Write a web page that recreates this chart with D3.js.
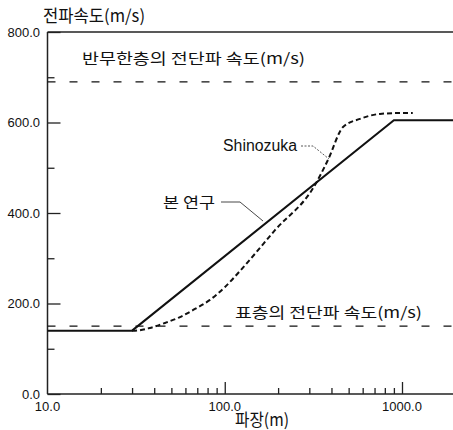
<!DOCTYPE html>
<html><head><meta charset="utf-8">
<script src="https://cdn.jsdelivr.net/npm/d3@7/dist/d3.min.js"></script>
<style>
html,body{margin:0;padding:0;background:#fff;}
svg{display:block;}
.kr{font-family:"Noto Sans CJK KR","Noto Sans",sans-serif;fill:#111;}
.num{font-family:"Liberation Sans",Arial,sans-serif;fill:#111;}
</style></head>
<body>
<svg id="c" width="453" height="430"></svg>
<script>
// ---- data ----
const studyX = [10, 30, 900, 2000];
const studyY = [140, 140, 605, 605];
const shinoX = [30, 31.2, 37.8, 46, 55.9, 67.9, 82.5, 100, 122, 192, 323, 382, 465, 579, 751, 1000, 1150];
const shinoY = [140, 140, 146, 157, 170, 188, 208, 236, 272, 362, 462, 517, 590, 608, 619, 621, 621];
const halfspaceVs = 690;
const surfaceVs = 150;
const yTicks = [0, 200, 400, 600, 800];
const yMinor = [100, 300, 500, 700];
const xMajor = [10, 100, 1000];
const xMinor = [20,30,40,50,60,70,80,90,200,300,400,500,600,700,800,900];
const yTitle = "전파속도(m/s)";
const xTitle = "파장(m)";
const labelHalf = "반무한층의 전단파 속도(m/s)";
const labelSurf = "표층의 전단파 속도(m/s)";
const labelShino = "Shinozuka";
const labelStudy = "본 연구";

// ---- layout ----
const svg = d3.select("#c");
const L = 47.5, T = 32, B = 394;
const x = d3.scaleLog().domain([10, 2000]).range([L, L + Math.log10(200) * 177.25]);
const y = d3.scaleLinear().domain([0, 800]).range([B, T]);
const W = 453;

// frame lines
svg.append("line").attr("x1", L).attr("x2", W).attr("y1", T).attr("y2", T).attr("stroke", "#222").attr("stroke-width", 1.3);
svg.append("line").attr("x1", L).attr("x2", W).attr("y1", B).attr("y2", B).attr("stroke", "#222").attr("stroke-width", 1.5);
svg.append("line").attr("x1", L).attr("x2", L).attr("y1", T).attr("y2", B).attr("stroke", "#222").attr("stroke-width", 1.5);

// y ticks (inward)
const yAxis = d3.axisRight(y).tickValues(yTicks).tickSize(13).tickFormat("");
const ga = svg.append("g").attr("transform", `translate(${L},0)`).call(yAxis);
ga.select(".domain").remove();
ga.selectAll("line").attr("stroke", "#222").attr("stroke-width", 1.3);
const yAxisMinor = d3.axisRight(y).tickValues(yMinor).tickSize(7).tickFormat("");
const gm = svg.append("g").attr("transform", `translate(${L},0)`).call(yAxisMinor);
gm.select(".domain").remove();
gm.selectAll("line").attr("stroke", "#222").attr("stroke-width", 1.3);
svg.selectAll(".ylab").data(yTicks).enter().append("text").attr("class", "num")
  .attr("x", 40).attr("y", d => y(d)).attr("dy", "0.36em").attr("text-anchor", "end")
  .attr("font-size", 13).text(d => d.toFixed(1));

// x ticks (inward)
const xAxis = d3.axisTop(x).tickValues(xMajor.filter(d => d > 10)).tickSize(12).tickFormat("");
const gx = svg.append("g").attr("transform", `translate(0,${B})`).call(xAxis);
gx.select(".domain").remove();
gx.selectAll("line").attr("stroke", "#222").attr("stroke-width", 1.3);
const xAxisMinor = d3.axisTop(x).tickValues(xMinor).tickSize(6).tickFormat("");
const gxm = svg.append("g").attr("transform", `translate(0,${B})`).call(xAxisMinor);
gxm.select(".domain").remove();
gxm.selectAll("line").attr("stroke", "#222").attr("stroke-width", 1.3);
svg.selectAll(".xlab").data(xMajor).enter().append("text").attr("class", "num")
  .attr("x", d => x(d)).attr("y", 411).attr("text-anchor", "middle")
  .attr("font-size", 13).text(d => d.toFixed(1));

// titles
svg.append("text").attr("class", "kr").attr("x", 43).attr("y", 22).attr("font-size", 17)
  .attr("textLength", 102).attr("lengthAdjust", "spacingAndGlyphs").text(yTitle);
svg.append("text").attr("class", "kr").attr("x", 235).attr("y", 426).attr("font-size", 17)
  .attr("textLength", 54).attr("lengthAdjust", "spacingAndGlyphs").text(xTitle);

// reference dashed lines
[halfspaceVs, surfaceVs].forEach(v => {
  svg.append("line").attr("x1", L).attr("x2", W).attr("y1", y(v)).attr("y2", y(v))
    .attr("stroke", "#111").attr("stroke-width", 1.3).attr("stroke-dasharray", "8,14");
});

// curves
const line = d3.line().x(d => x(d[0])).y(d => y(d[1]));
svg.append("path").datum(studyX.map((v, i) => [v, studyY[i]]))
  .attr("d", line).attr("fill", "none").attr("stroke", "#111").attr("stroke-width", 2);
svg.append("path").datum(shinoX.map((v, i) => [v, shinoY[i]]))
  .attr("d", line.curve(d3.curveMonotoneX)).attr("fill", "none").attr("stroke", "#111")
  .attr("stroke-width", 2).attr("stroke-dasharray", "5,3");

// annotations
svg.append("text").attr("class", "kr").attr("x", 82).attr("y", 64).attr("font-size", 15)
  .attr("textLength", 223).attr("lengthAdjust", "spacingAndGlyphs").text(labelHalf);
svg.append("text").attr("class", "kr").attr("x", 235).attr("y", 318).attr("font-size", 15)
  .attr("textLength", 187).attr("lengthAdjust", "spacingAndGlyphs").text(labelSurf);
svg.append("text").attr("class", "num").attr("x", 223).attr("y", 151).attr("font-size", 16)
  .attr("textLength", 74).attr("lengthAdjust", "spacingAndGlyphs").text(labelShino);
svg.append("text").attr("class", "kr").attr("x", 163).attr("y", 208).attr("font-size", 15)
  .attr("textLength", 52).attr("lengthAdjust", "spacingAndGlyphs").text(labelStudy);

// leaders
svg.append("polyline").attr("points", "301,146 313,146 329,159").attr("fill", "none")
  .attr("stroke", "#444").attr("stroke-width", 0.9).attr("stroke-dasharray", "2,1.5");
svg.append("polyline").attr("points", "221,202 240,202 263,221").attr("fill", "none")
  .attr("stroke", "#333").attr("stroke-width", 0.9);
</script>
</body></html>
